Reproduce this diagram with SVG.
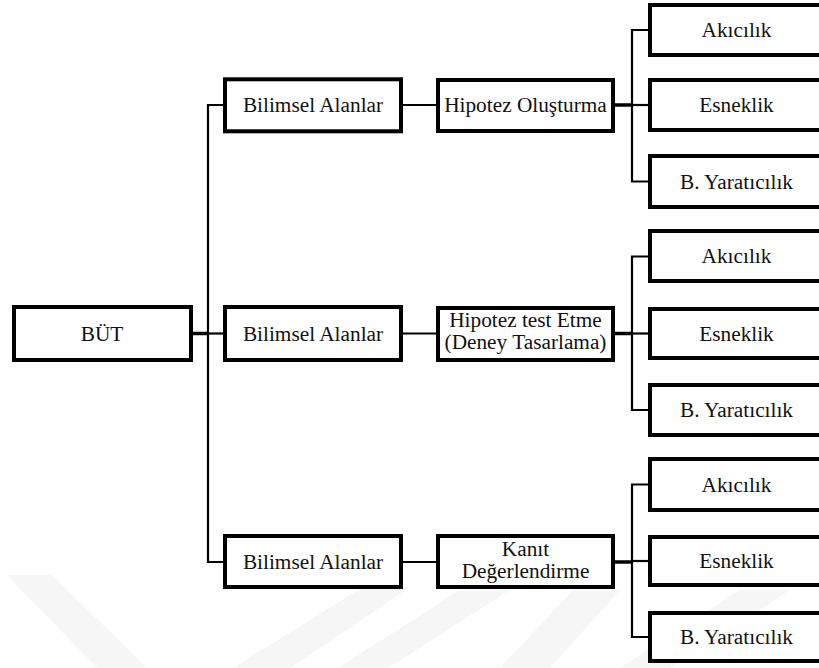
<svg xmlns="http://www.w3.org/2000/svg" width="819" height="668" viewBox="0 0 819 668">
<style>
.box{fill:#fff;stroke:#000;stroke-width:4}
text{font-family:'Liberation Serif','DejaVu Serif',serif;font-size:21.3px;fill:#111;text-anchor:middle}
.c{fill:none;stroke:#000;stroke-width:2.2}
.ct{fill:none;stroke:#000;stroke-width:3.5}
.wm{fill:#f6f6f6}
</style>
<rect width="819" height="668" fill="#fff"/>
<g id="watermark">
<polygon class="wm" points="7,575 52,575 147,668 97,668"/>
<polygon class="wm" points="363,587 410,587 290,668 233,668"/>
<polygon class="wm" points="460,590 510,590 388,668 338,668"/>
<polygon class="wm" points="573,590 620,590 550,668 500,668"/>
<polygon class="wm" points="740,590 790,590 670,668 620,668"/>
</g>
<g id="connectors">
<line class="ct" x1="192" y1="333.5" x2="208" y2="333.5"/>
<polyline class="c" points="223,105 208,105 208,562 223,562"/>
<line class="c" x1="208" y1="333.5" x2="223" y2="333.5"/>
<line class="c" x1="403" y1="105" x2="436" y2="105"/>
<line class="c" x1="403" y1="333.5" x2="436" y2="333.5"/>
<line class="c" x1="403" y1="562" x2="436" y2="562"/>
<line class="ct" x1="615" y1="105" x2="632" y2="105"/>
<line class="ct" x1="615" y1="333.5" x2="632" y2="333.5"/>
<line class="ct" x1="615" y1="562" x2="632" y2="562"/>
<polyline class="c" points="648,30 632,30 632,181.5 648,181.5"/>
<line class="c" x1="632" y1="105" x2="648" y2="105"/>
<polyline class="c" points="648,256.5 632,256.5 632,410 648,410"/>
<line class="c" x1="632" y1="333.5" x2="648" y2="333.5"/>
<polyline class="c" points="648,484.5 632,484.5 632,637 648,637"/>
<line class="c" x1="632" y1="561" x2="648" y2="561"/>
</g>
<g id="but"><rect class="box" x="14" y="307" width="177" height="53"/><text x="102" y="341">BÜT</text></g>
<g id="bilimsel1"><rect class="box" x="225" y="79.3" width="176" height="52"/><text x="313" y="112">Bilimsel Alanlar</text></g>
<g id="bilimsel2"><rect class="box" x="225" y="307" width="176" height="53"/><text x="313" y="341">Bilimsel Alanlar</text></g>
<g id="bilimsel3"><rect class="box" x="225" y="536" width="176" height="51"/><text x="313" y="569">Bilimsel Alanlar</text></g>
<g id="hipotez1"><rect class="box" x="438" y="80" width="175" height="51"/><text x="525.5" y="112">Hipotez Oluşturma</text></g>
<g id="hipotez2"><rect class="box" x="438" y="308" width="175" height="52"/><text x="525.5" y="327">Hipotez test Etme</text><text x="525.5" y="349">(Deney Tasarlama)</text></g>
<g id="kanit"><rect class="box" x="438" y="536" width="175" height="51"/><text x="525.5" y="556">Kanıt</text><text x="525.5" y="578">Değerlendirme</text></g>
<g id="akicilik1"><rect class="box" x="650" y="5" width="180" height="50"/><text x="736.5" y="37">Akıcılık</text></g>
<g id="esneklik1"><rect class="box" x="650" y="80" width="180" height="50"/><text x="736.5" y="112">Esneklik</text></g>
<g id="yaraticilik1"><rect class="box" x="650" y="156" width="180" height="51"/><text x="736.5" y="189">B. Yaratıcılık</text></g>
<g id="akicilik2"><rect class="box" x="650" y="231" width="180" height="50"/><text x="736.5" y="263">Akıcılık</text></g>
<g id="esneklik2"><rect class="box" x="650" y="309" width="180" height="49"/><text x="736.5" y="341">Esneklik</text></g>
<g id="yaraticilik2"><rect class="box" x="650" y="385" width="180" height="50"/><text x="736.5" y="417">B. Yaratıcılık</text></g>
<g id="akicilik3"><rect class="box" x="650" y="459" width="180" height="51"/><text x="736.5" y="492">Akıcılık</text></g>
<g id="esneklik3"><rect class="box" x="650" y="537" width="180" height="48"/><text x="736.5" y="568">Esneklik</text></g>
<g id="yaraticilik3"><rect class="box" x="650" y="613" width="180" height="48"/><text x="736.5" y="644">B. Yaratıcılık</text></g>
</svg>
